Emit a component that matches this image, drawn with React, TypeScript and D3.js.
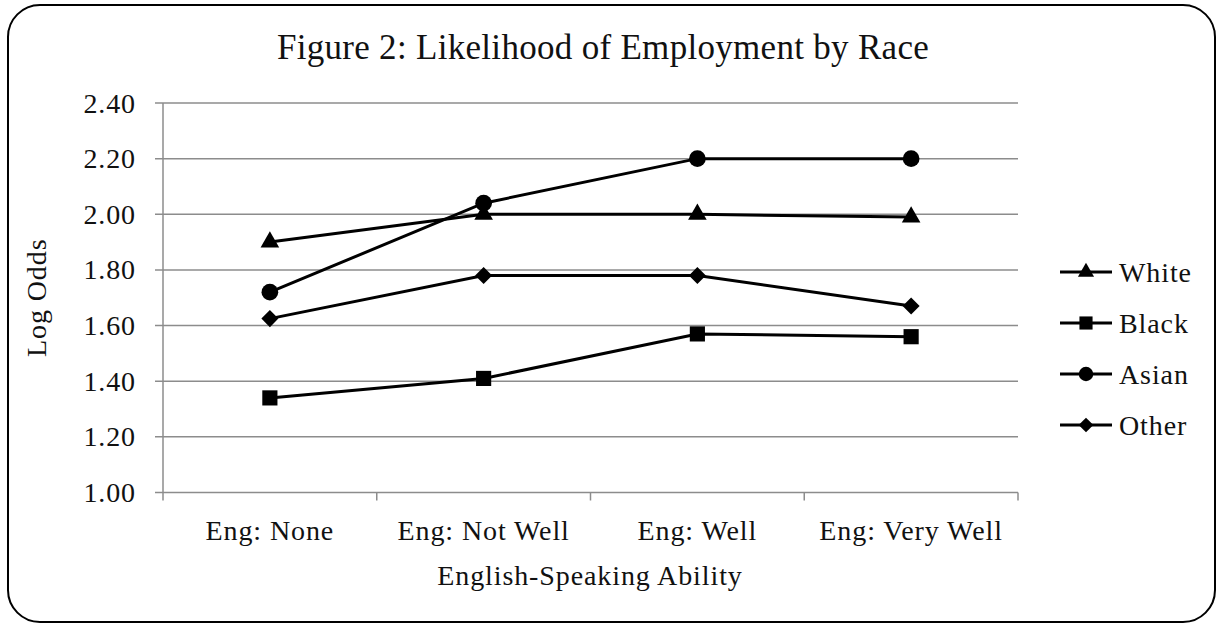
import * as d3 from "d3";

// 数据
const categories = ["Eng: None", "Eng: Not Well", "Eng: Well", "Eng: Very Well"];
const seriesNames = ["White", "Black", "Asian", "Other"];
const white = [1.9, 2.0, 2.0, 1.99];
const black = [1.34, 1.41, 1.57, 1.56];
const asian = [1.72, 2.04, 2.2, 2.2];
const other = [1.625, 1.78, 1.78, 1.67];
const yTicks = [1.0, 1.2, 1.4, 1.6, 1.8, 2.0, 2.2, 2.4];

// 菱形用旋转的正方形画，d3 自带的 diamond 太瘦
const series = [
  { name: seriesNames[0], values: white, symbol: d3.symbolTriangle, size: 150, rot: 0 },
  { name: seriesNames[1], values: black, symbol: d3.symbolSquare, size: 230, rot: 0 },
  { name: seriesNames[2], values: asian, symbol: d3.symbolCircle, size: 220, rot: 0 },
  { name: seriesNames[3], values: other, symbol: d3.symbolSquare, size: 145, rot: 45 },
];

const W = 1217;
const H = 625;
const FONT = "'Liberation Serif', 'DejaVu Serif', serif";

export default function App() {
  const plot = { left: 163, right: 1018, top: 103, bottom: 492.5 };

  const x = d3.scaleBand().domain(categories).range([plot.left, plot.right]);
  const y = d3.scaleLinear().domain([1.0, 2.4]).range([plot.bottom, plot.top]);

  const line = d3
    .line<number>()
    .x((_, i) => x(categories[i])! + x.bandwidth() / 2)
    .y((d) => y(d));

  const legendX = 1060;
  const legendY0 = 272;
  const legendStep = 51;
  const ls = 0.9; // 字间距，模拟 Garamond 的宽度

  return (
    <svg
      width={W}
      height={H}
      style={{ position: "absolute", left: 0, top: 0, background: "white" }}
      fontFamily={FONT}
    >
      {/* 外框 */}
      <rect x={8} y={5} width={1207} height={617} rx={32} ry={32} fill="white" stroke="black" strokeWidth={2} />

      {/* 标题 */}
      <text x={603} y={59} textAnchor="middle" fontSize={35} fill="#111" letterSpacing={0.3}>
        Figure 2: Likelihood of Employment by Race
      </text>

      {/* 网格线 */}
      {yTicks.map((t) => (
        <g key={t}>
          <line x1={plot.left - 8} x2={plot.right} y1={y(t)} y2={y(t)} stroke="#8c8c8c" strokeWidth={1.5} />
          <text x={136} y={y(t)} dy="0.34em" textAnchor="end" fontSize={28} fill="#111" letterSpacing={ls}>
            {t.toFixed(2)}
          </text>
        </g>
      ))}

      {/* 轴 */}
      <line x1={plot.left} x2={plot.left} y1={plot.top} y2={plot.bottom + 8} stroke="#8c8c8c" strokeWidth={1.5} />
      {categories.map((c, i) => {
        const xr = x(c)! + x.bandwidth();
        return (
          <g key={c}>
            <line x1={xr} x2={xr} y1={plot.bottom} y2={plot.bottom + 8} stroke="#8c8c8c" strokeWidth={1.5} />
            <text x={x(c)! + x.bandwidth() / 2} y={540} textAnchor="middle" fontSize={28} fill="#111" letterSpacing={ls}>
              {c}
            </text>
          </g>
        );
      })}

      <text x={590} y={585} textAnchor="middle" fontSize={28} fill="#111" letterSpacing={ls}>
        English-Speaking Ability
      </text>
      <text
        transform={`translate(46, ${(plot.top + plot.bottom) / 2}) rotate(-90)`}
        textAnchor="middle"
        fontSize={28}
        fill="#111"
        letterSpacing={ls}
      >
        Log Odds
      </text>

      {/* 折线 */}
      {series.map((s) => (
        <g key={s.name}>
          <path d={line(s.values) || ""} fill="none" stroke="black" strokeWidth={3} />
          {s.values.map((v, i) => (
            <path
              key={i}
              d={d3.symbol().type(s.symbol).size(s.size)() || ""}
              transform={`translate(${x(categories[i])! + x.bandwidth() / 2}, ${y(v)}) rotate(${s.rot})`}
              fill="black"
            />
          ))}
        </g>
      ))}

      {/* 图例 */}
      {series.map((s, i) => {
        const ly = legendY0 + i * legendStep;
        return (
          <g key={s.name} transform={`translate(${legendX}, ${ly})`}>
            <line x1={0} x2={52} y1={0} y2={0} stroke="black" strokeWidth={3} />
            <path
              d={d3.symbol().type(s.symbol).size(s.size * 0.75)() || ""}
              transform={`translate(26, 0) rotate(${s.rot})`}
              fill="black"
            />
            <text x={59} y={0} dy="0.34em" fontSize={28} fill="#111" letterSpacing={ls}>
              {s.name}
            </text>
          </g>
        );
      })}
    </svg>
  );
}
